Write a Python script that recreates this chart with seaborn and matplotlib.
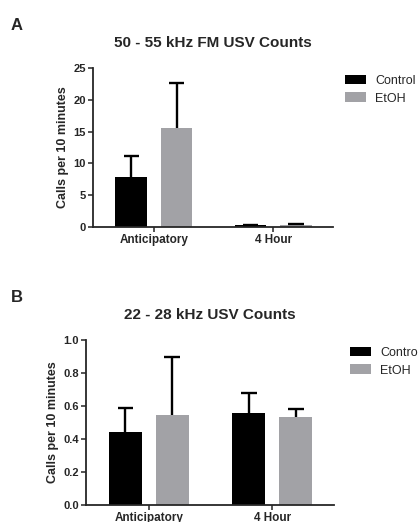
import matplotlib
matplotlib.use("Agg")
import matplotlib.pyplot as plt
import seaborn as sns
import pandas as pd
import numpy as np

sns.set_style("ticks")
plt.rcParams['font.family'] = ['Liberation Sans', 'DejaVu Sans']

categories = ["Anticipatory", "4 Hour"]
groups = ["Control", "EtOH"]

fm_control = [7.8, 0.3]
fm_etoh = [15.5, 0.35]
fm_control_err = [3.4, 0.1]
fm_etoh_err = [7.1, 0.2]

low_control = [0.44, 0.556]
low_etoh = [0.543, 0.535]
low_control_err = [0.148, 0.12]
low_etoh_err = [0.357, 0.045]

colors = {"Control": "#000000", "EtOH": "#a2a2a6"}


def make_df(c, e):
    rows = []
    for i, cat in enumerate(categories):
        rows.append({"cat": cat, "group": "Control", "val": c[i]})
        rows.append({"cat": cat, "group": "EtOH", "val": e[i]})
    return pd.DataFrame(rows)


fig = plt.figure(figsize=(4.18, 5.22), dpi=100)
ax1 = fig.add_axes([0.2225, 0.565, 0.574, 0.3046])
ax2 = fig.add_axes([0.2057, 0.0326, 0.593, 0.316])


def draw(ax, c, e, ce, ee, title, ylim, yticks, ylabels, letter, letter_y,
         tpad, legx):
    df = make_df(c, e)
    sns.barplot(data=df, x="cat", y="val", hue="group", order=categories,
                hue_order=groups, palette=colors, width=0.76, gap=0.3,
                errorbar=None, ax=ax, saturation=1, edgecolor="none")
    errs = {"Control": ce, "EtOH": ee}
    vals = {"Control": c, "EtOH": e}
    bars = [p for p in ax.patches if p.get_height() > 0]
    idx = 0
    for g in groups:
        for i in range(len(categories)):
            p = bars[idx]
            idx += 1
            xc = p.get_x() + p.get_width() / 2
            top = vals[g][i] + errs[g][i]
            hw = p.get_width() * 0.24
            ax.vlines(xc, vals[g][i], top, color="black", lw=1.7, zorder=3)
            ax.hlines(top, xc - hw, xc + hw, color="black", lw=1.7, zorder=3)
    ax.set_ylim(*ylim)
    ax.set_xlim(-0.51, 1.5)
    ax.set_yticks(yticks)
    ax.set_yticklabels(ylabels, fontsize=8, fontweight="bold")
    ax.set_xticks([0, 1])
    ax.set_xticklabels(categories, fontsize=8.5, fontweight="bold")
    ax.set_xlabel("")
    ax.set_ylabel("Calls per 10 minutes", fontsize=9, fontweight="bold", labelpad=3)
    ax.set_title(title, fontsize=11, fontweight="bold", pad=tpad)
    for s in ["top", "right"]:
        ax.spines[s].set_visible(False)
    for s in ["left", "bottom"]:
        ax.spines[s].set_linewidth(1.3)
    ax.tick_params(axis="both", width=1.1, length=3.5, pad=1.5)
    ax.legend(loc="upper left", bbox_to_anchor=(legx, 0.99), frameon=False,
              fontsize=9, handlelength=1.7, handleheight=0.8,
              handletextpad=0.7, labelspacing=0.45, borderaxespad=0)
    fig.text(0.025, letter_y, letter, fontsize=12, fontweight="bold",
             ha="left", va="center")


draw(ax1, fm_control, fm_etoh, fm_control_err, fm_etoh_err,
     "50 - 55 kHz FM USV Counts", (0, 25), [0, 5, 10, 15, 20, 25],
     ["0", "5", "10", "15", "20", "25"], "A", 1 - 25 / 522, 15, 1.03)
draw(ax2, low_control, low_etoh, low_control_err, low_etoh_err,
     "22 - 28 kHz USV Counts", (0, 1.0), [0, 0.2, 0.4, 0.6, 0.8, 1.0],
     ["0.0", "0.2", "0.4", "0.6", "0.8", "1.0"], "B", 1 - 298 / 522, 15, 1.045)

fig.savefig("out.png", dpi=100)
